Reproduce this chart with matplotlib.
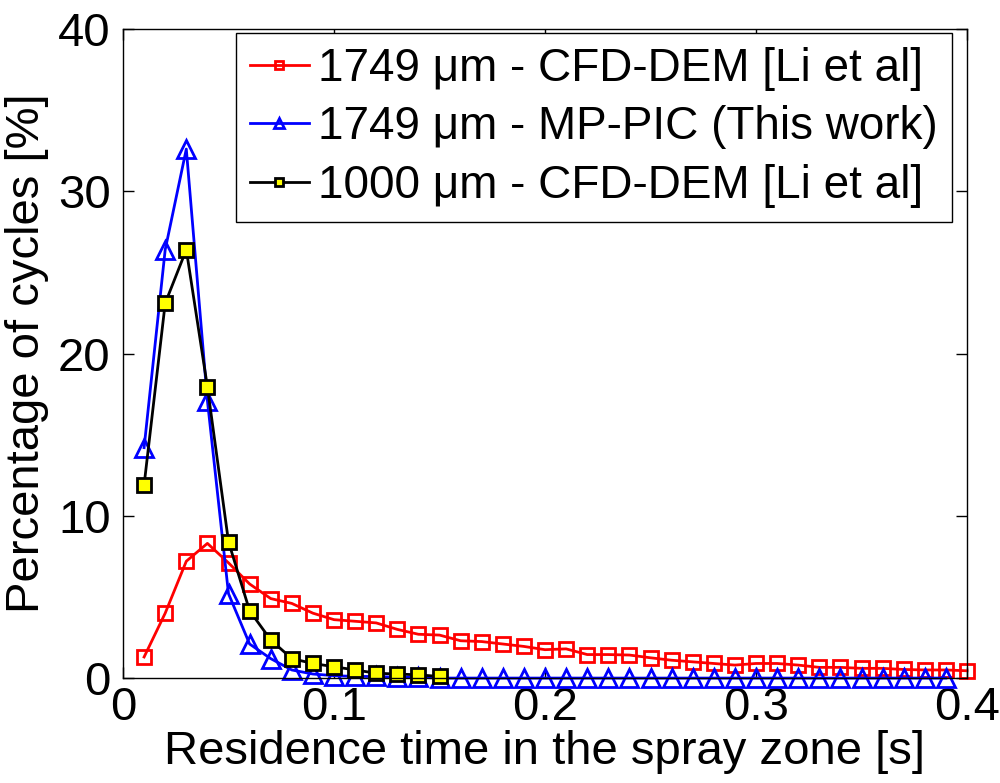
import matplotlib
matplotlib.use('Agg')
import matplotlib.pyplot as plt
import numpy as np

plt.rcParams['font.family'] = ['Liberation Sans', 'DejaVu Sans']

# residence time [s]
t_red = np.round(np.arange(1, 41) * 0.01, 2)
t_blue = np.round(np.arange(1, 40) * 0.01, 2)
t_black = np.round(np.arange(1, 16) * 0.01, 2)

red_vals = [1.3, 4.0, 7.2, 8.3, 7.1, 5.8, 4.9, 4.6, 4.0, 3.6,
            3.5, 3.4, 3.0, 2.7, 2.65, 2.3, 2.25, 2.1, 1.95, 1.75,
            1.8, 1.45, 1.45, 1.42, 1.25, 1.1, 1.0, 0.9, 0.8, 0.9,
            0.9, 0.8, 0.66, 0.66, 0.6, 0.6, 0.53, 0.5, 0.5, 0.45]
blue_vals = [14.2, 26.4, 32.6, 17.1, 5.2, 2.1, 1.2, 0.5, 0.25, 0.15,
             0.1, 0.1, 0.05, 0.05, 0.0, 0.0, 0.0, 0.0, 0.0, 0.0,
             0.0, 0.0, 0.0, 0.0, 0.0, 0.0, 0.0, 0.0, 0.0, 0.0,
             0.0, 0.0, 0.0, 0.0, 0.0, 0.0, 0.0, 0.0, 0.0]
black_vals = [11.9, 23.1, 26.4, 17.95, 8.4, 4.15, 2.35, 1.2, 0.9, 0.7,
              0.5, 0.3, 0.25, 0.2, 0.1]

labels = ['1749 \u03bcm - CFD-DEM [Li et al]',
          '1749 \u03bcm - MP-PIC (This work)',
          '1000 \u03bcm - CFD-DEM [Li et al]']

fig = plt.figure(figsize=(10, 7.83), dpi=100)
ax = fig.add_axes([0.123, 0.134, 0.844, 0.829])

ax.plot(t_red, red_vals, '-s', color='red', linewidth=2, markersize=10,
        markerfacecolor='none', markeredgewidth=2, label=labels[0], clip_on=False)
ax.plot(t_blue, blue_vals, '-^', color='blue', linewidth=2, markersize=13,
        markerfacecolor='none', markeredgewidth=2, label=labels[1], clip_on=False)
ax.plot(t_black, black_vals, '-s', color='black', linewidth=2, markersize=10,
        markerfacecolor='yellow', markeredgewidth=2, label=labels[2], clip_on=False)

ax.set_xlim(0, 0.4)
ax.set_ylim(0, 40)
ax.set_xticks([0, 0.1, 0.2, 0.3, 0.4])
ax.set_xticklabels(['0', '0.1', '0.2', '0.3', '0.4'])
ax.set_yticks([0, 10, 20, 30, 40])
ax.tick_params(direction='in', length=8, width=1, top=True, right=True,
               labelsize=34)
ax.tick_params(axis='x', pad=6)
ax.tick_params(axis='y', pad=9)
for s in ax.spines.values():
    s.set_linewidth(1)

ax.set_xlabel('Residence time in the spray zone [s]', fontsize=34, labelpad=0)
ax.set_ylabel('Percentage of cycles [%]', fontsize=34, labelpad=6)

leg = ax.legend(loc='upper right', bbox_to_anchor=(0.982, 0.994),
                fontsize=33, handlelength=1.3, handletextpad=0.2,
                borderpad=0.3, labelspacing=0.32, borderaxespad=0,
                fancybox=False, edgecolor='black', framealpha=1,
                markerscale=0.6)
leg.get_frame().set_linewidth(1)

fig.savefig('out.png', dpi=100)
